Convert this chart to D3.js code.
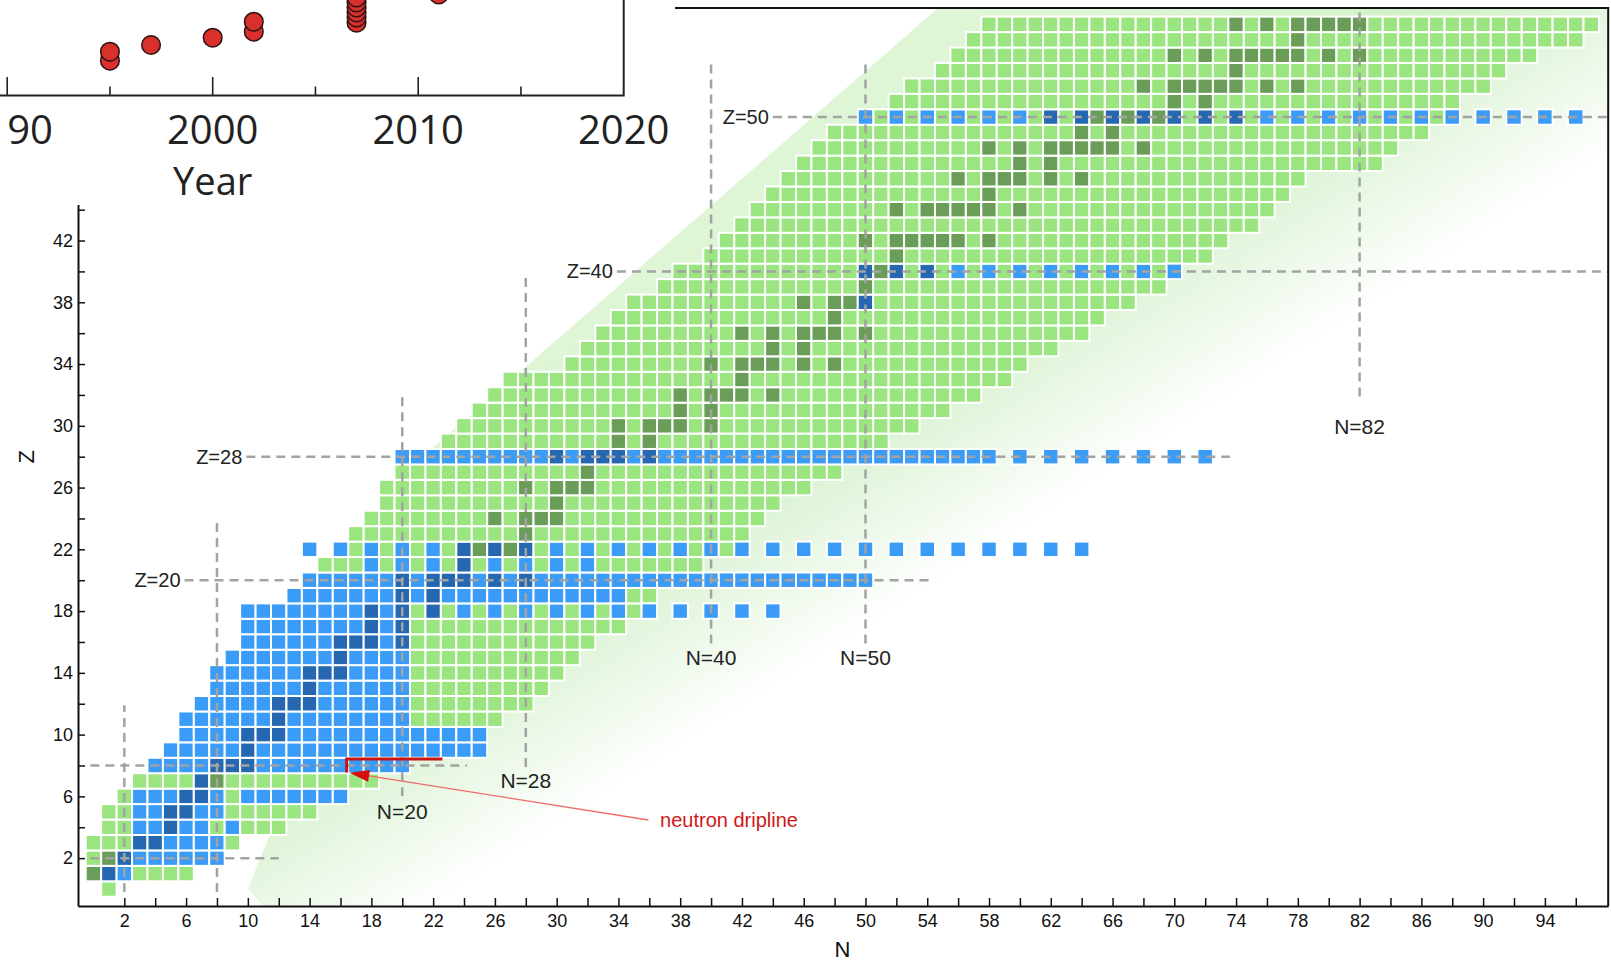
<!DOCTYPE html>
<html>
<head>
<meta charset="utf-8">
<script src="https://cdn.jsdelivr.net/npm/d3@7/dist/d3.min.js"></script>
<style>
  html, body { margin: 0; padding: 0; background: #fff; }
  svg { display: block; }
</style>
</head>
<body>
<svg id="chart" width="1611" height="962"></svg>
<script>
// rows of the chart: [Z, first N, last N]
const rowRanges = [
  [0,1,1],[1,0,6],[2,0,8],[3,0,9],[4,1,12],[5,1,14],[6,2,16],[7,3,18],[8,4,20],[9,5,25],[10,6,25],
  [11,6,26],[12,7,28],[13,8,29],[14,8,30],[15,9,31],[16,10,32],[17,10,34],[18,10,35],[19,13,36],[20,14,50],
  [21,15,39],[22,17,41],[23,17,42],[24,18,43],[25,19,44],[26,19,46],[27,20,48],
  [29,23,51],[30,24,53],[31,25,55],[32,26,57],[33,27,59],[34,31,60],[35,32,62],[36,33,64],[37,34,65],
  [38,35,67],[39,37,69],[40,38,69],[41,40,72],[42,41,73],[43,42,75],[44,43,76],[45,44,77],[46,45,78],
  [47,46,83],[48,47,84],[49,48,86],[50,51,87],[51,52,88],[52,53,90],[53,55,91],[54,56,93],[55,57,96],[56,58,97]
]

// blue cells: [Z, from N, to N, step]
const blueRuns = [
  [1,1,2,1],[2,2,8,1],[3,3,8,1],[4,3,7,1],[4,9,9,1],[5,3,8,1],[6,3,8,1],[6,10,16,1],[7,7,7,1],
  [8,4,20,1],[9,5,25,1],[10,6,25,1],[11,6,20,1],[12,7,20,1],[13,8,20,1],[14,8,20,1],[15,9,20,1],
  [16,10,20,1],[17,10,20,1],[18,10,20,1],[18,22,44,2],[19,13,34,1],[20,14,50,1],[21,18,32,2],
  [22,14,64,2],[28,20,58,1],[28,60,72,2],[38,50,50,1],[40,50,70,2],[50,50,96,2]
]

// stable nuclei: [Z, [N...]]
const stableNuclei = [
  [1,[0,1]],[2,[1,2]],[3,[3,4]],[4,[5]],[5,[5,6]],[6,[6,7]],[7,[7,8]],[8,[8,9,10]],[9,[10]],[10,[10,11,12]],
  [11,[12]],[12,[12,13,14]],[13,[14]],[14,[14,15,16]],[15,[16]],[16,[16,17,18,20]],[17,[18,20]],[18,[18,20,22]],
  [19,[20,22]],[20,[20,22,23,24,26,28]],[21,[24]],[22,[24,25,26,27,28]],[23,[28]],[24,[26,28,29,30]],[25,[30]],
  [26,[28,30,31,32]],[27,[32]],[28,[30,32,33,34,36]],[29,[34,36]],[30,[34,36,37,38,40]],[31,[38,40]],
  [32,[38,40,41,42,44]],[33,[42]],[34,[40,42,43,44,46,48]],[35,[44,46]],[36,[42,44,46,47,48,50]],[37,[48]],
  [38,[46,48,49,50]],[39,[50]],[40,[50,51,52,54]],[41,[52]],[42,[50,52,53,54,55,56,58]],
  [44,[52,54,55,56,57,58,60]],[45,[58]],[46,[56,58,59,60,62,64]],[47,[60,62]],[48,[58,60,62,63,64,65,66,68]],
  [49,[64,66]],[50,[62,64,65,66,67,68,69,70,72,74]],[51,[70,72]],[52,[68,70,71,72,73,74,76,78]],[53,[74]],
  [54,[70,72,74,75,76,77,78,80,82]],[55,[78]],[56,[74,76,78,79,80,81,82]]
]

const magicZ = [2, 8, 20, 28, 40, 50]
const magicN = [2, 8, 20, 28, 40, 50, 82]
const xTicks = d3.range(2, 97, 2)
const yTicks = d3.range(2, 45, 2)

// inset (top left, cropped)
const insetYears = [1995, 1995, 1997, 2000, 2002, 2002, 2007, 2007, 2007, 2007, 2007, 2007, 2011]
const insetValues = [34.8, 43.8, 50.5, 57.8, 63.8, 73.8, 72.8, 78, 83, 88, 93, 98, 101]
const insetLabels = [1990, 2000, 2010, 2020]
const insetMinor = [1995, 2005, 2015]

// ---- layout ----
const svg = d3.select("#chart")
const x = d3.scaleLinear().domain([-1, 98.1]).range([78, 1608.2])
const y = d3.scaleLinear().domain([-1.1, 57.06]).range([906, 8])
const cell = x(1) - x(0)
const font = "'Liberation Sans', Arial, Helvetica, sans-serif"

const colors = {green: "#9be580", dkgreen: "#6a9d58", blue: "#3a9cf7", dkblue: "#2567b1"}

// green band behind the chart
const defs = svg.append("defs")
const grad = defs.append("linearGradient").attr("id", "band")
    .attr("gradientUnits", "userSpaceOnUse")
    .attr("x1", x(48)).attr("y1", y(46.4))
    .attr("x2", x(62)).attr("y2", y(24.5))
grad.append("stop").attr("offset", 0).attr("stop-color", "#def5d6")
grad.append("stop").attr("offset", 0.5).attr("stop-color", "#d2f0c9")
grad.append("stop").attr("offset", 0.78).attr("stop-color", "#ebf8e7")
grad.append("stop").attr("offset", 1).attr("stop-color", "#ffffff")

const bandPts = [[10, 0], [21.3, 28], [54.7, 57.06], [98.1, 57.06], [98.1, 30], [40, -1.1], [11, -1.1]]
svg.append("polygon")
    .attr("points", bandPts.map(p => [x(p[0]), y(p[1])].join(",")).join(" "))
    .attr("fill", "url(#band)")

// build the cells
const key = (z, n) => z + ":" + n
const blueSet = new Set()
blueRuns.forEach(([z, a, b, s]) => { for (let n = a; n <= b; n += s) blueSet.add(key(z, n)) })
const stableSet = new Set()
stableNuclei.forEach(([z, ns]) => ns.forEach(n => stableSet.add(key(z, n))))

const cells = []
const seen = new Set()
function addCell(z, n){
    const k = key(z, n)
    if (seen.has(k)) return
    seen.add(k)
    const b = blueSet.has(k), st = stableSet.has(k)
    cells.push({z, n, type: b ? (st ? "dkblue" : "blue") : (st ? "dkgreen" : "green")})
}
rowRanges.forEach(([z, a, b]) => { for (let n = a; n <= b; n++) addCell(z, n) })
blueRuns.forEach(([z, a, b, s]) => { for (let n = a; n <= b; n += s) addCell(z, n) })

svg.append("g").selectAll("rect")
    .data(cells)
    .join("rect")
    .attr("x", d => x(d.n) - cell / 2)
    .attr("y", d => y(d.z) - cell / 2)
    .attr("width", cell)
    .attr("height", cell)
    .attr("fill", d => colors[d.type])
    .attr("stroke", "#fff")
    .attr("stroke-width", 2)

// magic number lines
const zLineExtent = {2: [-0.2, 12], 8: [-0.2, 24.2], 20: [5.9, 54.2], 28: [9.9, 73.6], 40: [33.9, 98.1], 50: [44, 98.1]}
const nLineExtent = {2: [-0.2, 11.9], 8: [-0.2, 24.1], 20: [6, 32.1], 28: [7.9, 39.6], 40: [15.9, 53.7], 50: [15.9, 53.7], 82: [31.9, 57.06]}
const nLabelZ = {20: 4.53, 28: 6.54, 40: 14.5, 50: 14.5, 82: 29.5}
const zLabeled = [20, 28, 40, 50]

const gLines = svg.append("g")
    .attr("stroke", "#a3a3a3")
    .attr("stroke-width", 2.5)
    .attr("stroke-dasharray", "9,6")
    .attr("fill", "none")

gLines.selectAll("line.z")
    .data(magicZ)
    .join("line")
    .attr("class", "z")
    .attr("x1", d => x(zLineExtent[d][0]))
    .attr("x2", d => x(zLineExtent[d][1]))
    .attr("y1", d => y(d))
    .attr("y2", d => y(d))

gLines.selectAll("line.n")
    .data(magicN)
    .join("line")
    .attr("class", "n")
    .attr("x1", d => x(d))
    .attr("x2", d => x(d))
    .attr("y1", d => y(nLineExtent[d][0]))
    .attr("y2", d => y(nLineExtent[d][1]))

svg.append("g").selectAll("text")
    .data(zLabeled)
    .join("text")
    .attr("x", d => x(zLineExtent[d][0]) - 4)
    .attr("y", d => y(d))
    .attr("dy", "0.35em")
    .attr("text-anchor", "end")
    .attr("font-family", font)
    .attr("font-size", 20)
    .attr("fill", "#222")
    .text(d => "Z=" + d)

svg.append("g").selectAll("text")
    .data(Object.keys(nLabelZ).map(Number))
    .join("text")
    .attr("x", d => x(d))
    .attr("y", d => y(nLabelZ[d]))
    .attr("text-anchor", "middle")
    .attr("font-family", font)
    .attr("font-size", 21)
    .attr("fill", "#222")
    .text(d => "N=" + d)

// neutron dripline annotation
const bracket = [[22.6, 8.42], [16.4, 8.42], [16.4, 7.55]]
svg.append("path")
    .attr("d", d3.line().x(d => x(d[0])).y(d => y(d[1]))(bracket))
    .attr("fill", "none")
    .attr("stroke", "#cc1111")
    .attr("stroke-width", 3)

const arrowFrom = [35.94, 4.47], arrowTip = [16.57, 7.53]
const sx = x(arrowFrom[0]), sy = y(arrowFrom[1]), tx = x(arrowTip[0]), ty = y(arrowTip[1])
const len = Math.hypot(tx - sx, ty - sy)
const ux = (tx - sx) / len, uy = (ty - sy) / len
const bx = tx - 20 * ux, by = ty - 20 * uy
svg.append("line")
    .attr("x1", sx).attr("y1", sy).attr("x2", bx).attr("y2", by)
    .attr("stroke", "#ef6b6b").attr("stroke-width", 1.3)
svg.append("polygon")
    .attr("points", [[tx, ty], [bx - 6 * uy, by + 6 * ux], [bx + 6 * uy, by - 6 * ux]].map(p => p.join(",")).join(" "))
    .attr("fill", "#d40f0f")
svg.append("text")
    .attr("x", x(36.7)).attr("y", y(4.02))
    .attr("font-family", font)
    .attr("font-size", 20)
    .attr("fill", "#d01818")
    .text("neutron dripline")

// axes
const gx = svg.append("g")
    .attr("transform", `translate(0,${y(-1.1)})`)
    .call(d3.axisBottom(x).tickValues(xTicks).tickSize(-8).tickSizeOuter(0).tickPadding(8)
        .tickFormat(d => (d - 2) % 4 === 0 ? d : ""))
const gy = svg.append("g")
    .attr("transform", `translate(${x(-1)},0)`)
    .call(d3.axisLeft(y).tickValues(yTicks).tickSize(-7).tickSizeOuter(0).tickPadding(5)
        .tickFormat(d => (d - 2) % 4 === 0 ? d : ""))
;[gx, gy].forEach(g => {
    g.attr("font-size", 18).attr("font-family", font)
    g.select(".domain").attr("stroke", "#111").attr("stroke-width", 2)
    g.selectAll(".tick line").attr("stroke", "#111").attr("stroke-width", 1.5)
    g.selectAll(".tick text").attr("fill", "#111")
})

// frame top and right
svg.append("path")
    .attr("d", `M${675},${y(57.06)}H${x(98.1)}V${y(-1.1)}`)
    .attr("fill", "none")
    .attr("stroke", "#111")
    .attr("stroke-width", 2)

svg.append("text")
    .attr("x", x(48.5)).attr("y", 957)
    .attr("text-anchor", "middle")
    .attr("font-family", font).attr("font-size", 22).attr("fill", "#111")
    .text("N")
svg.append("text")
    .attr("transform", `translate(26,${y(28)}) rotate(-90)`)
    .attr("dy", "0.35em")
    .attr("text-anchor", "middle")
    .attr("font-family", font).attr("font-size", 22).attr("fill", "#111")
    .text("Z")

// inset panel (cropped at the top left)
const inset = svg.append("g")
inset.append("rect").attr("x", 0).attr("y", 0).attr("width", 667).attr("height", 205).attr("fill", "#fff")

const ix = d3.scaleLinear().domain([1990, 2020]).range([7.2, 623.7])
const iy = d3.scaleLinear().domain([0, 100]).range([95.5, -4.5])

inset.append("path")
    .attr("d", `M0,${iy(0)}H${ix(2020)}V0`)
    .attr("fill", "none").attr("stroke", "#222").attr("stroke-width", 2)
inset.selectAll("line.major")
    .data(insetLabels.slice(0, 3))
    .join("line")
    .attr("x1", d => ix(d)).attr("x2", d => ix(d))
    .attr("y1", iy(0)).attr("y2", iy(0) - 18.5)
    .attr("stroke", "#222").attr("stroke-width", 1.6)
inset.selectAll("line.minor")
    .data(insetMinor)
    .join("line")
    .attr("x1", d => ix(d)).attr("x2", d => ix(d))
    .attr("y1", iy(0)).attr("y2", iy(0) - 9)
    .attr("stroke", "#222").attr("stroke-width", 1.6)
// the first year label is cut by the panel edge, only its last two digits show
inset.selectAll("text.year")
    .data(insetLabels)
    .join("text")
    .attr("x", d => ix(d))
    .attr("y", 144)
    .attr("text-anchor", (d, i) => i === 0 ? "start" : "middle")
    .attr("font-family", "'Open Sans', sans-serif")
    .attr("font-size", 40)
    .attr("fill", "#222")
    .text((d, i) => i === 0 ? String(d).slice(2) : d)
inset.append("text")
    .attr("x", ix(2000)).attr("y", 195)
    .attr("text-anchor", "middle")
    .attr("font-family", "'Open Sans', sans-serif")
    .attr("font-size", 38)
    .attr("fill", "#222")
    .text("Year")

inset.selectAll("circle")
    .data(insetYears.map((yr, i) => ({yr, v: insetValues[i]})))
    .join("circle")
    .attr("cx", d => ix(d.yr))
    .attr("cy", d => iy(d.v))
    .attr("r", 9.3)
    .attr("fill", "#d9302c")
    .attr("stroke", "#2a1212")
    .attr("stroke-width", 1.5)
</script>
</body>
</html>
